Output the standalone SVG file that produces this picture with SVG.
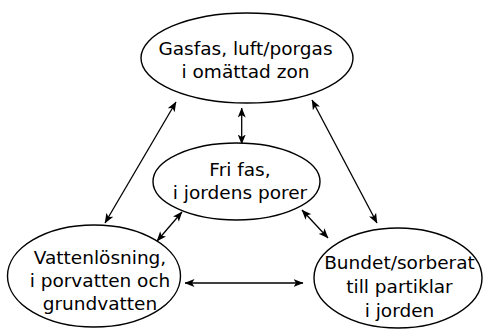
<svg xmlns="http://www.w3.org/2000/svg" width="483" height="329" viewBox="0 0 483 329">
<style>
.n ellipse{fill:#fff;stroke:#000;stroke-width:1.4}
.n text{font-family:"DejaVu Sans",sans-serif;font-size:18.5px;fill:#000;text-anchor:middle}
.c line{stroke:#000;stroke-width:1.3;marker-start:url(#a);marker-end:url(#a)}
</style>
<defs>
<marker id="a" viewBox="0 0 10 8" refX="9.5" refY="4" markerWidth="10" markerHeight="8" markerUnits="userSpaceOnUse" orient="auto-start-reverse">
<path d="M0,0 L10,4 L0,8 L2.5,4 Z" fill="#000"/>
</marker>
</defs>
<rect width="483" height="329" fill="#fff"/>
<g class="c">
<line x1="241.7" y1="108" x2="241.7" y2="144"/>
<line x1="176" y1="102" x2="105" y2="223"/>
<line x1="312" y1="100" x2="377" y2="223"/>
<line x1="182" y1="212" x2="157" y2="241"/>
<line x1="302" y1="210" x2="328" y2="238"/>
<line x1="185" y1="283" x2="303" y2="283"/>
</g>
<g class="n" id="gasfas">
<ellipse cx="247" cy="58" rx="106" ry="45"/>
<text x="245.5" y="55">Gasfas, luft/porgas</text>
<text x="245.5" y="78">i omättad zon</text>
</g>
<g class="n" id="frifas">
<ellipse cx="236.5" cy="181.5" rx="83.5" ry="38.5"/>
<text x="240" y="176">Fri fas,</text>
<text x="240" y="199">i jordens porer</text>
</g>
<g class="n" id="vatten">
<ellipse cx="94" cy="276" rx="86.5" ry="51"/>
<text x="100" y="264">Vattenlösning,</text>
<text x="100" y="287">i porvatten och</text>
<text x="100" y="310">grundvatten</text>
</g>
<g class="n" id="bundet">
<ellipse cx="398" cy="278" rx="84" ry="50"/>
<text x="399.5" y="269">Bundet/sorberat</text>
<text x="399.5" y="293">till partiklar</text>
<text x="399.5" y="317">i jorden</text>
</g>
</svg>
